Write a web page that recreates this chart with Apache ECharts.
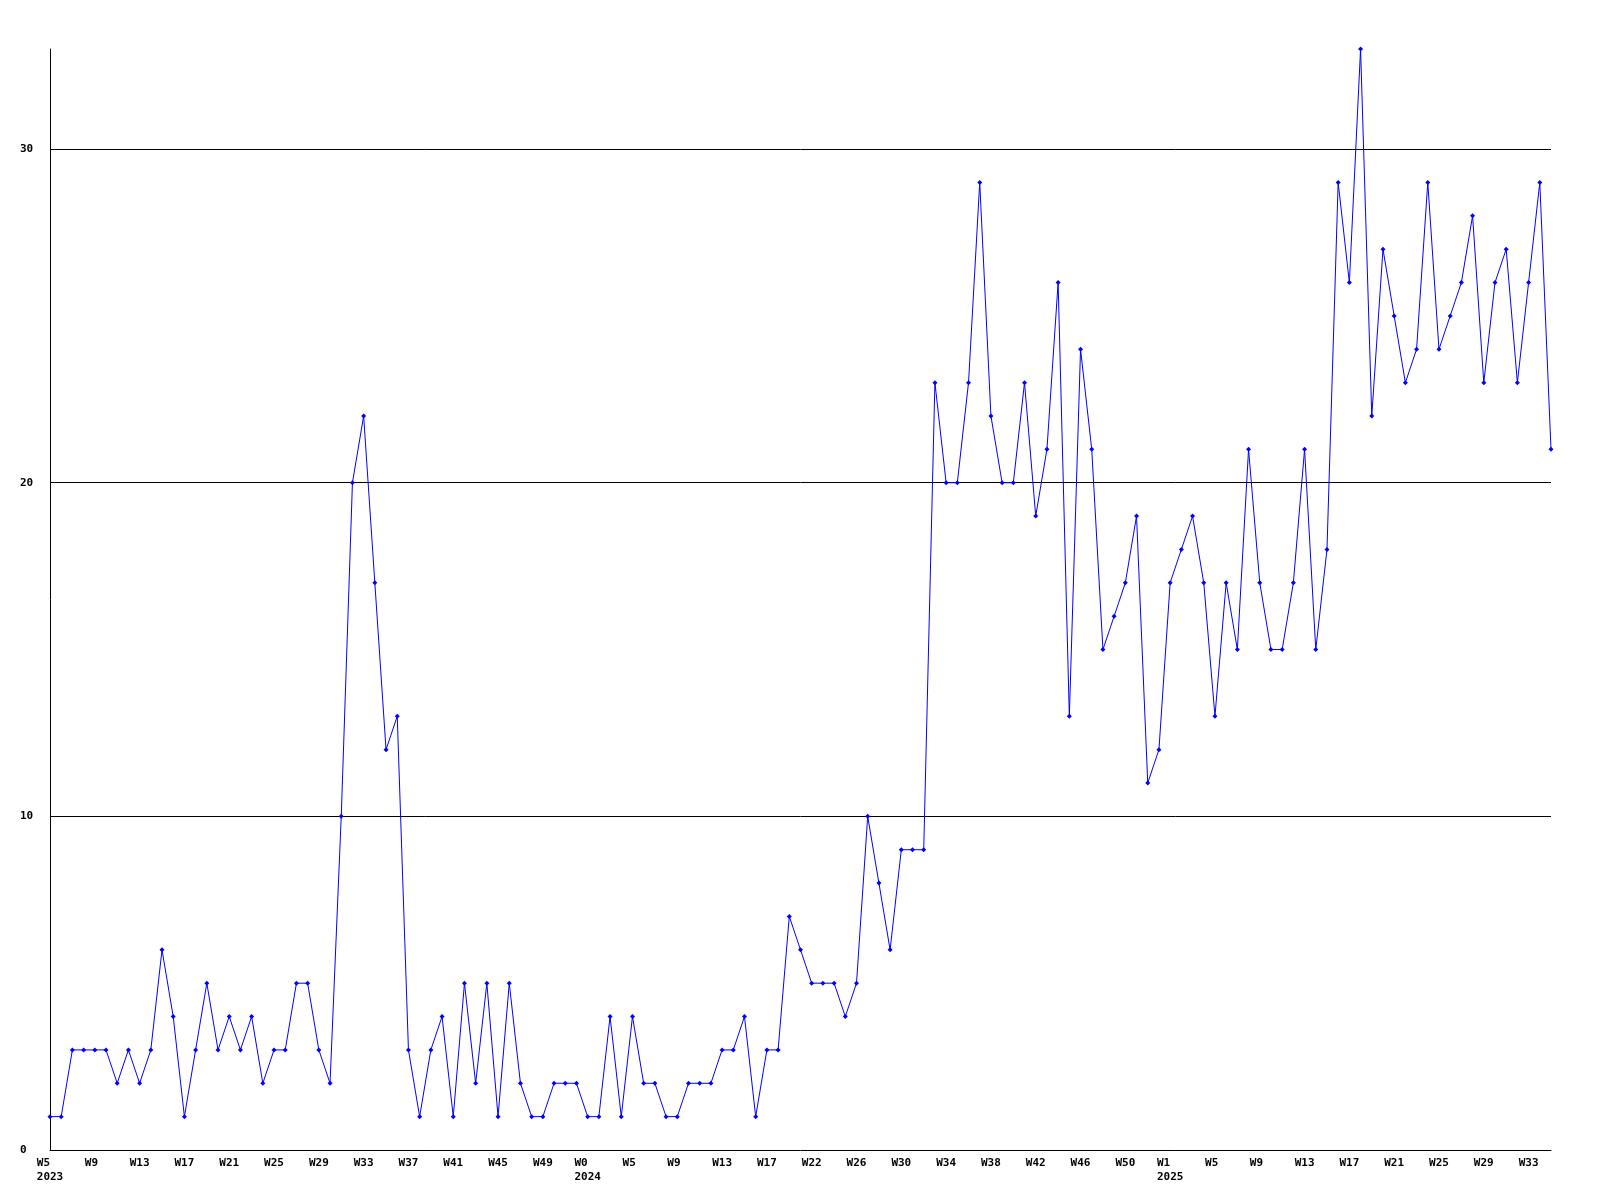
<!DOCTYPE html>
<html>
<head>
<meta charset="utf-8">
<script src="https://cdn.jsdelivr.net/npm/echarts@6/dist/echarts.min.js"></script>
<style>
  html, body { margin: 0; padding: 0; background: #ffffff; }
  #chart { width: 1600px; height: 1200px; }
</style>
</head>
<body>
<div id="chart"></div>
<script>
// Week labels per year
const weeks2023 = ['W5','W6','W7','W8','W9','W10','W11','W12','W13','W14','W15','W16','W17','W18','W19','W20',
  'W21','W22','W23','W24','W25','W26','W27','W28','W29','W30','W31','W32','W33','W34','W35','W36',
  'W37','W38','W39','W40','W41','W42','W43','W44','W45','W46','W47','W48','W49','W50','W51','W52'];
const weeks2024 = ['W0','W2','W3','W4','W5','W6','W7','W8','W9','W10','W11','W12','W13','W14','W15','W16',
  'W17','W18','W19','W20','W22','W23','W24','W25','W26','W27','W28','W29','W30','W31','W32','W33',
  'W34','W35','W36','W37','W38','W39','W40','W41','W42','W43','W44','W45','W46','W47','W48','W49',
  'W50','W51','W52','W53'];
const weeks2025 = ['W1','W2','W3','W4','W5','W6','W7','W8','W9','W10','W11','W12','W13','W14','W15','W16',
  'W17','W18','W19','W20','W21','W22','W23','W24','W25','W26','W27','W28','W29','W30','W31','W32',
  'W33','W34','W35'];
const years = ['2023', '2024', '2025'];

// Values per year
const values2023 = [1,1,3,3,3,3,2,3,2,3,6,4,1,3,5,3,4,3,4,2,3,3,5,5,3,2,10,20,22,17,12,13,
  3,1,3,4,1,5,2,5,1,5,2,1,1,2,2,2];
const values2024 = [1,1,4,1,4,2,2,1,1,2,2,2,3,3,4,1,3,3,7,6,5,5,5,4,5,10,8,6,9,9,9,23,
  20,20,23,29,22,20,20,23,19,21,26,13,24,21,15,16,17,19,11,12];
const values2025 = [17,18,19,17,13,17,15,21,17,15,15,17,21,15,18,29,26,33,22,27,25,23,24,29,
  24,25,26,28,23,26,27,23,26,29,21];

const yTicks = [0, 10, 20, 30];

// Build category list and year start markers
const weekGroups = [weeks2023, weeks2024, weeks2025];
const categories = [];
const yearAt = {};
weekGroups.forEach(function (g, gi) {
  yearAt[categories.length] = years[gi];
  g.forEach(function (w) { categories.push(w); });
});
const values = values2023.concat(values2024, values2025);

const font = '"DejaVu Sans Mono", "Liberation Mono", monospace';

const chart = echarts.init(document.getElementById('chart'), null, { renderer: 'canvas' });
chart.setOption({
  animation: false,
  backgroundColor: '#ffffff',
  grid: { left: 50, right: 49, top: 49, bottom: 50, containLabel: false },
  xAxis: {
    type: 'category',
    data: categories,
    boundaryGap: false,
    axisLine: { show: true, lineStyle: { color: '#000000', width: 1 } },
    axisTick: { show: false },
    splitLine: { show: false },
    axisLabel: {
      interval: 3,
      margin: 6,
      color: '#000000',
      fontFamily: font,
      fontWeight: 'bold',
      fontSize: 11,
      lineHeight: 14,
      align: 'center',
      formatter: function (value, index) {
        if (yearAt[index] !== undefined) {
          return value.padEnd(4, ' ') + '\n' + yearAt[index];
        }
        return value.padEnd(3, ' ');
      }
    }
  },
  yAxis: {
    type: 'value',
    min: 0,
    max: 33,
    interval: 10,
    axisLine: { show: true, lineStyle: { color: '#000000', width: 1 } },
    axisTick: { show: false },
    splitLine: { show: true, showMinLine: false, showMaxLine: false, lineStyle: { color: '#000000', width: 1 } },
    axisLabel: {
      margin: 30,
      align: 'left',
      showMaxLabel: false,
      color: '#000000',
      fontFamily: font,
      fontWeight: 'bold',
      fontSize: 11,
      formatter: function (v) { return yTicks.indexOf(v) >= 0 ? String(v) : ''; }
    }
  },
  series: [{
    type: 'line',
    data: values,
    symbol: 'diamond',
    symbolSize: 5,
    showAllSymbol: true,
    lineStyle: { color: '#0000ff', width: 1 },
    itemStyle: { color: '#0000ff' },
    emphasis: { disabled: true }
  }]
});
</script>
</body>
</html>
